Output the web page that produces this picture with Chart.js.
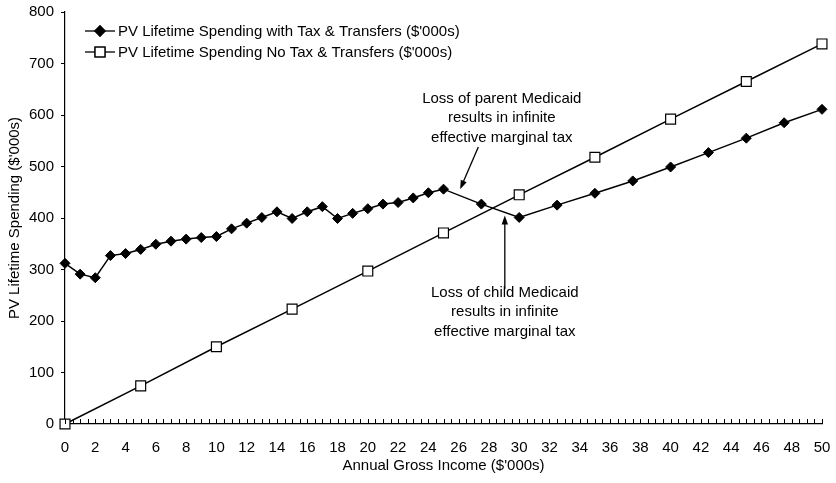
<!DOCTYPE html>
<html>
<head>
<meta charset="utf-8">
<script src="https://cdn.jsdelivr.net/npm/chart.js@4.4.0/dist/chart.umd.min.js"></script>
<style>
  html, body { margin: 0; padding: 0; background: #fff; }
  #wrap { width: 836px; height: 483px; }
</style>
</head>
<body>
<div id="wrap"><canvas id="chart" width="836" height="483"></canvas></div>
<script>
// income ($'000s) and PV lifetime spending ($'000s)
var withIncome   = [0, 1, 2, 3, 4, 5, 6, 7, 8, 9, 10, 11, 12, 13, 14, 15, 16, 17, 18, 19, 20, 21, 22, 23, 24, 25, 27.5, 30, 32.5, 35, 37.5, 40, 42.5, 45, 47.5, 50];
var withSpending = [312, 291, 284, 327, 331, 339, 349, 355, 359, 362, 364, 379, 390, 401, 412, 399, 412, 422, 399, 409, 418, 427, 430, 439, 449, 456, 427, 401, 425, 448, 472, 499, 527, 555, 585, 611];

var noIncome   = [0, 5, 10, 15, 20, 25, 30, 35, 40, 45, 50];
var noSpending = [0, 74, 150, 223, 297, 371, 445, 518, 592, 665, 738];

var xTickLabels = [0, 2, 4, 6, 8, 10, 12, 14, 16, 18, 20, 22, 24, 26, 28, 30, 32, 34, 36, 38, 40, 42, 44, 46, 48, 50];
var yTickLabels = [0, 100, 200, 300, 400, 500, 600, 700, 800];

var seriesNames = [
  "PV Lifetime Spending with Tax & Transfers ($'000s)",
  "PV Lifetime Spending No Tax & Transfers ($'000s)"
];

// notes, anchored in data units
var notes = [
  { lines: ['Loss of parent Medicaid', 'results in infinite', 'effective marginal tax'], x: 28.85, y: 632, arrowFrom: [27.3, 538], arrowTo: [26.1, 456] },
  { lines: ['Loss of child Medicaid', 'results in infinite', 'effective marginal tax'], x: 29.05, y: 255, arrowFrom: [29.05, 262], arrowTo: [29.05, 405] }
];

var FONT = '"Liberation Sans", Arial, sans-serif';

function pts(xs, ys) {
  return xs.map(function(x, i) { return { x: x, y: ys[i] }; });
}

function arrow(ctx, x1, y1, x2, y2) {
  var a = Math.atan2(y2 - y1, x2 - x1);
  var len = 9, w = 3.2;
  ctx.beginPath();
  ctx.moveTo(x1, y1);
  ctx.lineTo(x2 - Math.cos(a) * len * 0.8, y2 - Math.sin(a) * len * 0.8);
  ctx.stroke();
  ctx.beginPath();
  ctx.moveTo(x2, y2);
  ctx.lineTo(x2 - Math.cos(a) * len + Math.sin(a) * w, y2 - Math.sin(a) * len - Math.cos(a) * w);
  ctx.lineTo(x2 - Math.cos(a) * len - Math.sin(a) * w, y2 - Math.sin(a) * len + Math.cos(a) * w);
  ctx.closePath();
  ctx.fill();
}

var extras = {
  id: 'extras',
  afterDraw: function(chart) {
    var ctx = chart.ctx;
    var xs = chart.scales.x, ys = chart.scales.y;
    var area = chart.chartArea;
    ctx.save();
    ctx.strokeStyle = '#000';
    ctx.fillStyle = '#000';

    // minor tick marks, pointing up from the x axis
    ctx.lineWidth = 1;
    for (var v = 0; v <= 50; v += 0.5) {
      var px = Math.round(xs.getPixelForValue(v)) + 0.5;
      ctx.beginPath();
      ctx.moveTo(px, area.bottom);
      ctx.lineTo(px, area.bottom - 5);
      ctx.stroke();
    }

    // legend
    ctx.font = '15px ' + FONT;
    ctx.textBaseline = 'middle';
    ctx.textAlign = 'left';
    var rows = [31, 52];
    chart.data.datasets.forEach(function(ds, i) {
      var y = rows[i];
      ctx.lineWidth = 1.3;
      ctx.beginPath();
      ctx.moveTo(85, y);
      ctx.lineTo(115, y);
      ctx.stroke();
      Chart.helpers.drawPoint(ctx, {
        pointStyle: ds.pointStyle, radius: ds.pointRadius, rotation: 0, borderWidth: 1
      }, 100, y);
      ctx.fillStyle = ds.pointBackgroundColor;
      ctx.fill();
      ctx.stroke();
      ctx.fillStyle = '#000';
      ctx.fillText(seriesNames[i], 118, y + 1);
    });

    // annotations
    ctx.textAlign = 'center';
    ctx.lineWidth = 1.3;
    notes.forEach(function(n) {
      var cx = xs.getPixelForValue(n.x);
      var top = ys.getPixelForValue(n.y);
      n.lines.forEach(function(t, k) {
        ctx.fillText(t, cx, top + k * 19.5);
      });
      arrow(ctx,
        xs.getPixelForValue(n.arrowFrom[0]), ys.getPixelForValue(n.arrowFrom[1]),
        xs.getPixelForValue(n.arrowTo[0]), ys.getPixelForValue(n.arrowTo[1]));
    });
    ctx.restore();
  }
};

new Chart(document.getElementById('chart'), {
  type: 'line',
  data: {
    datasets: [{
      label: seriesNames[0],
      data: pts(withIncome, withSpending),
      borderColor: '#000',
      borderWidth: 1.5,
      pointStyle: 'rectRot',
      pointRadius: 5,
      pointBackgroundColor: '#000',
      pointBorderColor: '#000',
      pointBorderWidth: 1,
      tension: 0,
      clip: false
    }, {
      label: seriesNames[1],
      data: pts(noIncome, noSpending),
      borderColor: '#000',
      borderWidth: 1.5,
      pointStyle: 'rect',
      pointRadius: 7,
      pointBackgroundColor: '#fff',
      pointBorderColor: '#000',
      pointBorderWidth: 1.2,
      tension: 0,
      clip: false
    }]
  },
  options: {
    responsive: false,
    animation: false,
    devicePixelRatio: 1,
    layout: { padding: { left: 0, top: 12, right: 14, bottom: 0 } },
    plugins: {
      legend: { display: false },
      tooltip: { enabled: false }
    },
    scales: {
      x: {
        type: 'linear',
        min: 0, max: 50,
        afterBuildTicks: function(s) { s.ticks = xTickLabels.map(function(v) { return { value: v }; }); },
        afterFit: function(s) { s.height = 59; s.paddingLeft = 0; s.paddingRight = 0; },
        ticks: { color: '#000', font: { family: FONT, size: 15 }, padding: 15, maxRotation: 0, autoSkip: false },
        grid: { display: true, drawOnChartArea: false, drawTicks: false },
        border: { display: true, color: '#000', width: 1.2 },
        title: { display: true, text: "Annual Gross Income ($'000s)", color: '#000', font: { family: FONT, size: 15 }, padding: { bottom: 8 } }
      },
      y: {
        min: 0, max: 800,
        afterBuildTicks: function(s) { s.ticks = yTickLabels.map(function(v) { return { value: v }; }); },
        afterFit: function(s) { s.width = 65; s.paddingTop = 0; s.paddingBottom = 0; },
        ticks: { color: '#000', font: { family: FONT, size: 15 }, padding: 7 },
        grid: { drawOnChartArea: false, drawTicks: true, tickLength: 4, color: '#000' },
        border: { display: true, color: '#000', width: 1.2 },
        title: { display: true, text: "PV Lifetime Spending ($'000s)", color: '#000', font: { family: FONT, size: 15 }, padding: { top: 6 } }
      }
    }
  },
  plugins: [extras]
});
</script>
</body>
</html>
